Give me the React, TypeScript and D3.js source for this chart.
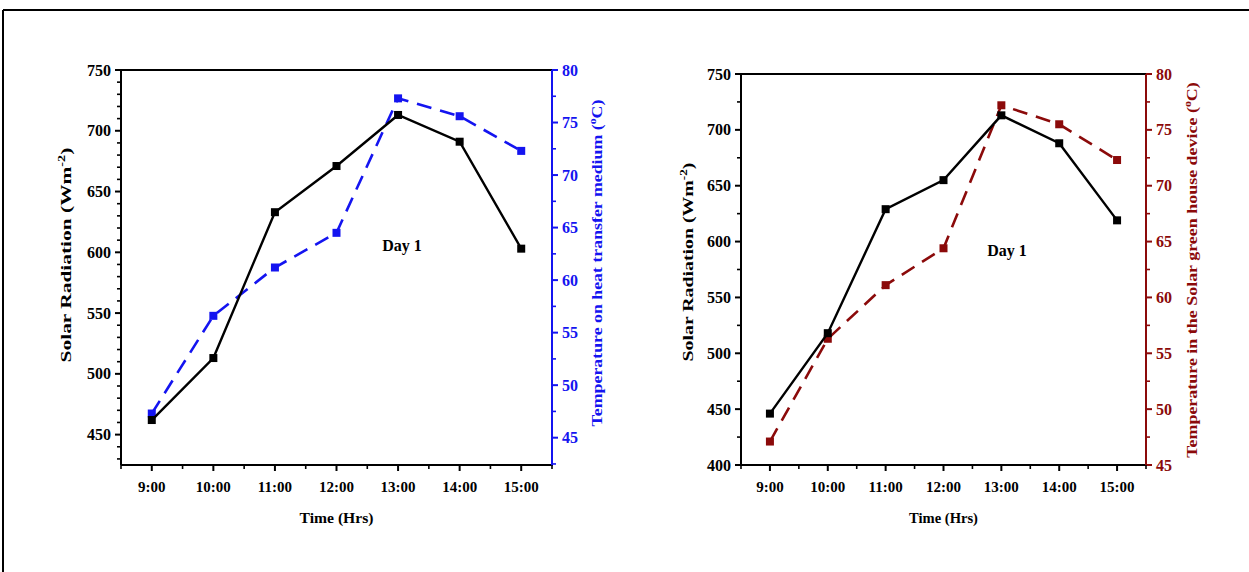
import React, { useLayoutEffect, useRef, useState } from "react";
import * as d3 from "d3";

// ---- data ----
const hours = [9, 10, 11, 12, 13, 14, 15];
const hourLabels = ["9:00", "10:00", "11:00", "12:00", "13:00", "14:00", "15:00"];

const solarDayA = [462, 513, 633, 671, 713, 691, 603];
const tempHeatMedium = [47.3, 56.6, 61.2, 64.5, 77.3, 75.6, 72.3];

const solarDayB = [446, 518, 629, 655, 713, 688, 619];
const tempGreenHouse = [47.1, 56.3, 61.1, 64.4, 77.2, 75.5, 72.3];

const leftTicksA = [450, 500, 550, 600, 650, 700, 750];
const rightTicksA = [45, 50, 55, 60, 65, 70, 75, 80];
const leftTicksB = [400, 450, 500, 550, 600, 650, 700, 750];
const rightTicksB = [45, 50, 55, 60, 65, 70, 75, 80];

const FONT = "'Liberation Serif', 'Times New Roman', serif";

function FitText(props: {
  x: number; y: number; angle: number; length: number; fontSize: number; fill: string; children: React.ReactNode;
}) {
  const ref = useRef<SVGTextElement>(null);
  const [s, setS] = useState(1);
  useLayoutEffect(() => {
    if (ref.current) {
      const w = ref.current.getBBox().width;
      if (w > 0) setS(props.length / w);
    }
  }, [props.length]);
  return (
    <g transform={`translate(${props.x},${props.y}) rotate(${props.angle}) scale(${s},1)`}>
      <text ref={ref} x={0} y={0} dy="0.35em" textAnchor="middle" fontSize={props.fontSize} fill={props.fill}>
        {props.children}
      </text>
    </g>
  );
}

type PanelProps = {
  x0: number; x1: number; yTop: number; yBot: number;
  leftDomain: [number, number]; rightDomain: [number, number];
  leftTicks: number[]; leftMinorStep: number;
  rightTicks: number[]; rightMinorStep: number;
  solar: number[]; temp: number[];
  tempColor: string; rightLabel: string;
  leftLabel: { x: number; y: number; len: number };
  rightLabelPos: { x: number; y: number; len: number };
  timeLabel: { y: number; len: number };
  dayX: number; dayY: number;
};

function range(a: number, b: number, step: number) {
  const out: number[] = [];
  for (let v = a; v <= b + 1e-9; v += step) out.push(+v.toFixed(4));
  return out;
}

function Panel(p: PanelProps) {
  const x = d3.scaleLinear().domain([8.5, 15.5]).range([p.x0, p.x1]);
  const yL = d3.scaleLinear().domain(p.leftDomain).range([p.yBot, p.yTop]);
  const yR = d3.scaleLinear().domain(p.rightDomain).range([p.yBot, p.yTop]);
  const lineL = d3.line<number>().x((_, i) => x(hours[i])).y((d) => yL(d));
  const lineR = d3.line<number>().x((_, i) => x(hours[i])).y((d) => yR(d));
  const leftMinor = range(Math.ceil(p.leftDomain[0] / p.leftMinorStep) * p.leftMinorStep, p.leftDomain[1], p.leftMinorStep)
    .filter((v) => !p.leftTicks.includes(v));
  const rightMinor = range(Math.ceil(p.rightDomain[0] / p.rightMinorStep) * p.rightMinorStep, p.rightDomain[1], p.rightMinorStep)
    .filter((v) => !p.rightTicks.includes(v));
  const xMinor = range(8.5, 15.5, 1);
  return (
    <g fontFamily={FONT} fontWeight="bold">
      {/* axes */}
      <line x1={p.x0} x2={p.x1} y1={p.yTop} y2={p.yTop} stroke="#000" strokeWidth={2} />
      <line x1={p.x0} x2={p.x1} y1={p.yBot} y2={p.yBot} stroke="#000" strokeWidth={2} />
      <line x1={p.x0} x2={p.x0} y1={p.yTop} y2={p.yBot} stroke="#000" strokeWidth={2} />
      <line x1={p.x1} x2={p.x1} y1={p.yTop} y2={p.yBot + 1} stroke={p.tempColor} strokeWidth={2} />
      {/* left ticks */}
      {p.leftTicks.map((t) => (
        <g key={"l" + t}>
          <line x1={p.x0 - 6} x2={p.x0} y1={yL(t)} y2={yL(t)} stroke="#000" strokeWidth={2} />
          <text x={p.x0 - 10} y={yL(t)} dy="0.35em" textAnchor="end" fontSize={16} fill="#000">{t}</text>
        </g>
      ))}
      {leftMinor.map((t) => (
        <line key={"lm" + t} x1={p.x0 - 4} x2={p.x0} y1={yL(t)} y2={yL(t)} stroke="#000" strokeWidth={1.6} />
      ))}
      {/* right ticks */}
      {p.rightTicks.map((t) => (
        <g key={"r" + t}>
          <line x1={p.x1} x2={p.x1 + 6} y1={yR(t)} y2={yR(t)} stroke={p.tempColor} strokeWidth={2} />
          <text x={p.x1 + 10} y={yR(t)} dy="0.35em" textAnchor="start" fontSize={16} fill={p.tempColor}>{t}</text>
        </g>
      ))}
      {rightMinor.map((t) => (
        <line key={"rm" + t} x1={p.x1} x2={p.x1 + 4} y1={yR(t)} y2={yR(t)} stroke={p.tempColor} strokeWidth={1.6} />
      ))}
      {/* x ticks */}
      {hours.map((h, i) => (
        <g key={"x" + h}>
          <line x1={x(h)} x2={x(h)} y1={p.yBot} y2={p.yBot + 6} stroke="#000" strokeWidth={2} />
          <text x={x(h)} y={p.yBot + 27} textAnchor="middle" fontSize={15} fill="#000">{hourLabels[i]}</text>
        </g>
      ))}
      {xMinor.map((h) => (
        <line key={"xm" + h} x1={x(h)} x2={x(h)} y1={p.yBot} y2={p.yBot + 4} stroke="#000" strokeWidth={1.6} />
      ))}
      {/* axis titles */}
      <FitText x={(p.x0 + p.x1) / 2} y={p.timeLabel.y} angle={0} length={p.timeLabel.len} fontSize={15} fill="#000">
        Time (Hrs)
      </FitText>
      <FitText x={p.leftLabel.x} y={p.leftLabel.y} angle={-90} length={p.leftLabel.len} fontSize={15} fill="#000">
        Solar Radiation (Wm<tspan fontSize={10} dy={-6}>-2</tspan><tspan dy={6}>)</tspan>
      </FitText>
      <FitText x={p.rightLabelPos.x} y={p.rightLabelPos.y} angle={-90} length={p.rightLabelPos.len} fontSize={15} fill={p.tempColor}>
        {p.rightLabel} (<tspan fontSize={10} dy={-6}>o</tspan><tspan dy={6}>C)</tspan>
      </FitText>
      {/* series */}
      <path d={lineR(p.temp) || ""} fill="none" stroke={p.tempColor} strokeWidth={2.6} strokeDasharray="15 9" />
      {p.temp.map((v, i) => (
        <rect key={"tm" + i} x={x(hours[i]) - 4} y={yR(v) - 4} width={8} height={8} fill={p.tempColor} />
      ))}
      <path d={lineL(p.solar) || ""} fill="none" stroke="#000" strokeWidth={2.4} />
      {p.solar.map((v, i) => (
        <rect key={"sm" + i} x={x(hours[i]) - 4} y={yL(v) - 4} width={8} height={8} fill="#000" />
      ))}
      <text x={p.dayX} y={p.dayY} textAnchor="middle" fontSize={16} fill="#000">Day 1</text>
    </g>
  );
}

export default function App() {
  return (
    <svg width={1249} height={572} style={{ position: "absolute", left: 0, top: 0, background: "#fff" }}>
      <rect x={0} y={0} width={1249} height={572} fill="#fff" />
      <line x1={3} x2={1249} y1={10} y2={10} stroke="#000" strokeWidth={2} />
      <line x1={3} x2={3} y1={10} y2={572} stroke="#000" strokeWidth={2} />
      <Panel
        x0={121} x1={552} yTop={70} yBot={465}
        leftDomain={[425, 750]} rightDomain={[42.4, 80]}
        leftTicks={leftTicksA} leftMinorStep={10}
        rightTicks={rightTicksA} rightMinorStep={2.5}
        solar={solarDayA} temp={tempHeatMedium}
        tempColor="#1414f0" rightLabel="Temperature on heat transfer medium"
        leftLabel={{ x: 66, y: 255, len: 215 }}
        rightLabelPos={{ x: 597, y: 263, len: 327 }}
        timeLabel={{ y: 518, len: 74 }}
        dayX={402} dayY={251}
      />
      <Panel
        x0={741} x1={1146} yTop={74} yBot={465}
        leftDomain={[400, 750]} rightDomain={[45, 80]}
        leftTicks={leftTicksB} leftMinorStep={25}
        rightTicks={rightTicksB} rightMinorStep={2.5}
        solar={solarDayB} temp={tempGreenHouse}
        tempColor="#8b0a0a" rightLabel="Temperature in the Solar green house device"
        leftLabel={{ x: 688, y: 262, len: 199 }}
        rightLabelPos={{ x: 1192, y: 270, len: 376 }}
        timeLabel={{ y: 518, len: 69 }}
        dayX={1007} dayY={256}
      />
    </svg>
  );
}
